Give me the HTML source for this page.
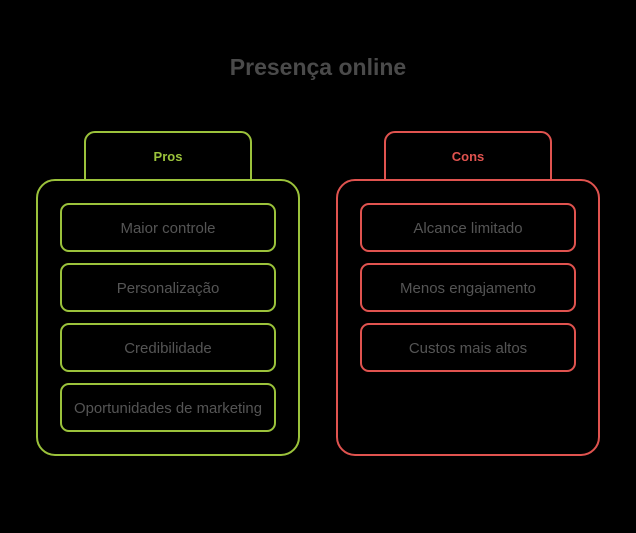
<!DOCTYPE html>
<html><head><style>
body{margin:0;background:#000;width:636px;height:528px;overflow:hidden}
svg text{font-family:"Liberation Sans",sans-serif}
</style></head><body>
<svg width="636" height="528" viewBox="0 0 636 528">
<text x="318" y="75" text-anchor="middle" font-size="23" font-weight="bold" fill="#4a4a4a">Presença online</text>
<g fill="none" stroke="#9bc23b" stroke-width="2">
<path d="M85 180 V142 a10 10 0 0 1 10 -10 H241 a10 10 0 0 1 10 10 V180"/>
<rect x="37" y="180" width="262" height="275" rx="18"/>
<rect x="61" y="204" width="214" height="47" rx="8"/>
<rect x="61" y="264" width="214" height="47" rx="8"/>
<rect x="61" y="324" width="214" height="47" rx="8"/>
<rect x="61" y="384" width="214" height="47" rx="8"/>
</g>
<g fill="none" stroke="#e0534f" stroke-width="2">
<path d="M385 180 V142 a10 10 0 0 1 10 -10 H541 a10 10 0 0 1 10 10 V180"/>
<rect x="337" y="180" width="262" height="275" rx="18"/>
<rect x="361" y="204" width="214" height="47" rx="8"/>
<rect x="361" y="264" width="214" height="47" rx="8"/>
<rect x="361" y="324" width="214" height="47" rx="8"/>
</g>
<text x="168" y="161" text-anchor="middle" font-size="13" font-weight="bold" fill="#9bc23b">Pros</text>
<text x="468" y="161" text-anchor="middle" font-size="13" font-weight="bold" fill="#e0534f">Cons</text>
<g font-size="15" fill="#555" text-anchor="middle">
<text x="168" y="233">Maior controle</text>
<text x="168" y="293">Personalização</text>
<text x="168" y="353">Credibilidade</text>
<text x="168" y="413" textLength="188" lengthAdjust="spacingAndGlyphs">Oportunidades de marketing</text>
<text x="468" y="233">Alcance limitado</text>
<text x="468" y="293">Menos engajamento</text>
<text x="468" y="353">Custos mais altos</text>
</g>
</svg>
</body></html>
